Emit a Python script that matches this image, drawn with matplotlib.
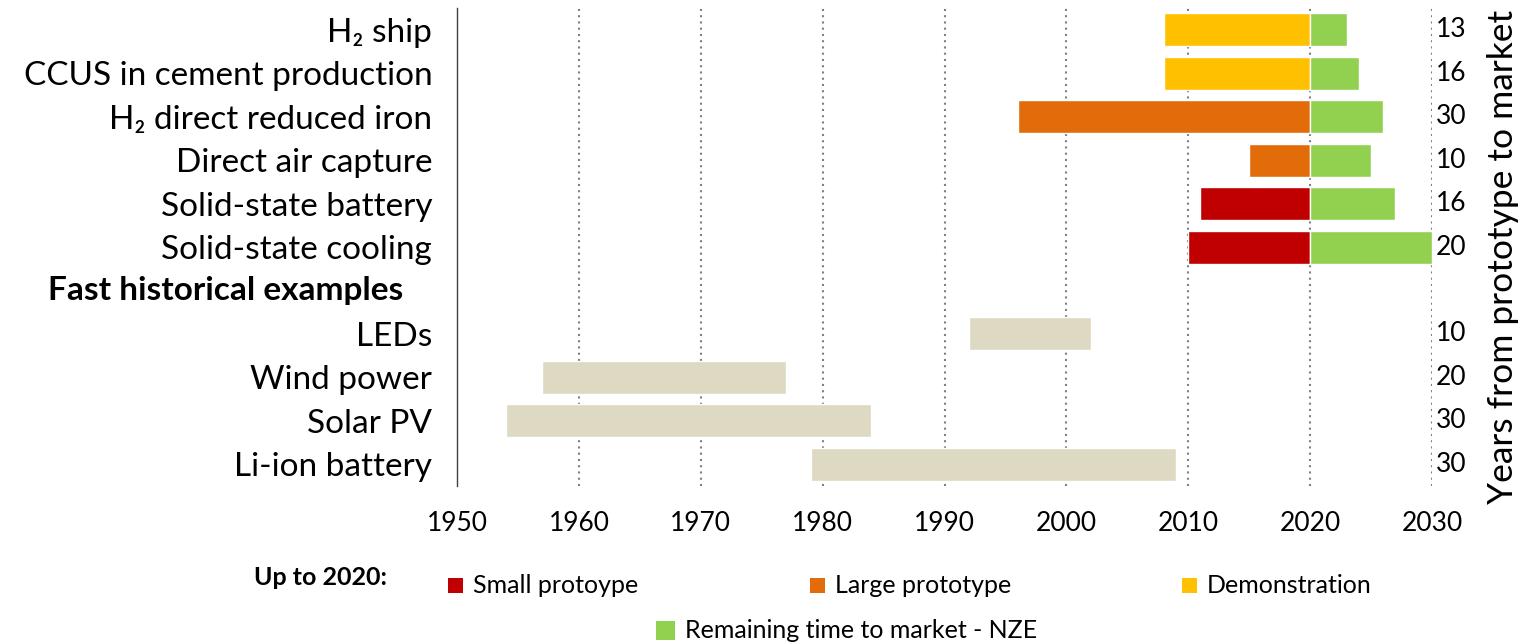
import matplotlib.pyplot as plt
from matplotlib.patches import Rectangle
import numpy as np

plt.rcParams['font.family'] = ['Lato', 'DejaVu Sans']

# data (top to bottom)
technologies = ['H₂ ship', 'CCUS in cement production', 'H₂ direct reduced iron',
                'Direct air capture', 'Solid-state battery', 'Solid-state cooling',
                'Fast historical examples', 'LEDs', 'Wind power', 'Solar PV', 'Li-ion battery']
prototype_year = [2008, 2008, 1996, 2015, 2011, 2010, None, 1992, 1957, 1954, 1979]
market_year = [2023, 2024, 2026, 2025, 2027, 2030, None, 2002, 1977, 1984, 2009]
stage = ['Demonstration', 'Demonstration', 'Large prototype', 'Large prototype',
         'Small prototype', 'Small prototype', None, 'Historical', 'Historical',
         'Historical', 'Historical']
years_to_market = ['13', '16', '30', '10', '16', '20', '', '10', '20', '30', '30']
cutoff_year = 2020
x_ticks = [1950, 1960, 1970, 1980, 1990, 2000, 2010, 2020, 2030]

colors = {
    'Small prototype': '#C00000',
    'Large prototype': '#E36C0A',
    'Demonstration': '#FFC000',
    'Remaining': '#92D050',
    'Historical': '#DDD9C3',
}

fig = plt.figure(figsize=(15.24, 6.43), dpi=100)
ax = fig.add_axes([0.300, 0.244, 0.6396, 0.7436])

y = np.arange(len(technologies))
bar_h = 0.76

for i, (start, end, st) in enumerate(zip(prototype_year, market_year, stage)):
    if st is None:
        continue
    if st == 'Historical':
        ax.barh(y[i], end - start, left=start, height=bar_h, color=colors[st],
                edgecolor='white', linewidth=1, zorder=3)
    else:
        ax.barh(y[i], cutoff_year - start, left=start, height=bar_h, color=colors[st],
                edgecolor='white', linewidth=1, zorder=3)
        ax.barh(y[i], end - cutoff_year, left=cutoff_year, height=bar_h,
                color=colors['Remaining'], edgecolor='white', linewidth=1, zorder=3)

ax.set_xlim(1950, 2030)
ax.set_ylim(len(technologies) - 0.5, -0.5)
ax.set_xticks(x_ticks)
ax.set_xticklabels([str(t) for t in x_ticks], fontsize=19)
ax.tick_params(axis='x', length=0, pad=18)

ax.set_yticks(y)
ax.set_yticklabels([t if t != 'Fast historical examples' else '' for t in technologies],
                   fontsize=24)
ax.tick_params(axis='y', length=0, pad=18)
ax.text(-0.055, 6, 'Fast historical examples', transform=ax.get_yaxis_transform(),
        ha='right', va='center', fontsize=24, fontweight='bold')

for t in x_ticks[1:]:
    ax.axvline(t, color='#808080', linestyle=(0, (1, 2)), linewidth=1.5, zorder=1)

for s in ['top', 'right', 'bottom']:
    ax.spines[s].set_visible(False)
ax.spines['left'].set_color('#404040')
ax.spines['left'].set_linewidth(1)

# years from prototype to market, on the right
for i, lab in enumerate(years_to_market):
    ax.text(1.004, y[i], lab, transform=ax.get_yaxis_transform(),
            ha='left', va='center', fontsize=19)
fig.text(0.986, 0.600, 'Years from prototype to market', rotation=90,
         ha='center', va='center', fontsize=25.5)

# legend
fig.text(0.1667, 0.1026, 'Up to 2020:', fontsize=18, fontweight='bold', va='center')
legend_items = [('Small prototype', 0.294, 0.089, 15, 'Small protoype'),
                ('Large prototype', 0.5315, 0.089, 15, 'Large prototype'),
                ('Demonstration', 0.7756, 0.089, 15, 'Demonstration'),
                ('Remaining', 0.4304, 0.020, 19, 'Remaining time to market - NZE')]
for key, lx, ly, px, lab in legend_items:
    w = px / 1524
    h = px / 643
    fig.patches.append(Rectangle((lx, ly - h / 2), w, h, transform=fig.transFigure,
                                 facecolor=colors[key], edgecolor='none'))
    fig.text(lx + w + 0.0066, ly, lab, fontsize=18, va='center')

fig.savefig('out.png', dpi=100)
